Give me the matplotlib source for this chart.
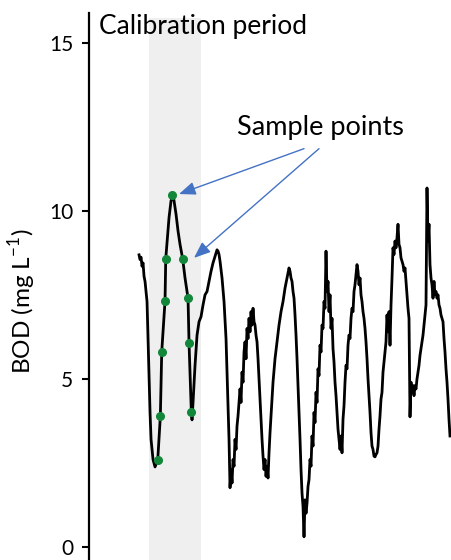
import matplotlib.pyplot as plt
import numpy as np

plt.rcParams['font.family'] = ['Lato', 'DejaVu Sans']

# BOD trace, time index vs value (mg/L)
t = [50, 51, 52, 53, 54, 55, 56, 57, 58, 59, 60, 61, 62, 64, 66, 68.7,
     71.3, 72.7, 76, 76.7, 80, 82, 84, 85, 87, 89, 91, 93.7, 96, 99, 100,
     102.3, 103, 104, 106, 108, 110, 112, 114, 116, 118, 120, 122, 124, 126,
     128, 129, 130, 131, 133, 135, 137, 138, 139, 140, 141, 142, 143, 144,
     145, 146, 147, 148, 149, 150, 151, 152, 153, 154, 155, 156, 157, 158,
     159, 160, 161, 162, 163, 164, 165, 166, 167, 168, 169, 170, 171, 172,
     173, 174, 175, 176, 177, 178, 179, 180, 181, 182, 183, 184, 186, 188,
     190, 192, 194, 196, 198, 200, 201, 202, 203, 204, 205, 206, 207, 208,
     209, 210, 211, 212, 213, 214, 215, 216, 217, 218, 219, 220, 221, 222,
     223, 224, 225, 226, 227, 228, 229, 230, 231, 232, 233, 234, 235, 236,
     237, 238, 239, 240, 241, 242, 243, 244, 245, 246, 247, 248, 249, 250,
     251, 252, 253, 254, 255, 256, 257, 258, 259, 260, 261, 262, 263, 264,
     265, 266, 267, 268, 269, 270, 271, 272, 273, 274, 275, 276, 277, 278,
     279, 280, 281, 282, 283, 284, 285, 286, 287, 288, 289, 290, 291, 292,
     293, 294, 295, 296, 297, 298, 299, 300, 301, 302, 303, 304, 305, 306,
     307, 308, 309, 310, 311, 312, 313, 314, 315, 316, 317, 318, 319, 320,
     321, 322, 323, 324, 325, 326, 327, 328, 329, 330, 331, 332, 333, 334,
     335, 336, 337, 338, 339, 340, 341, 342, 343, 344, 345, 346, 347, 348,
     349, 350, 351, 352, 353, 354, 355, 356, 357, 358, 359, 360, 361]
bod = [8.69, 8.55, 8.62, 8.35, 8.45, 8.05, 7.9, 7.6, 7.3, 6.2, 5.0, 4.0,
       3.2, 2.6, 2.38, 2.59, 3.88, 5.81, 7.32, 8.57, 9.8, 10.3, 10.45, 10.3,
       9.9, 9.4, 9.0, 8.56, 8.0, 7.40, 6.06, 4.01, 3.78, 4.3, 5.4, 6.3, 6.7,
       6.85, 7.2, 7.5, 7.6, 7.9, 8.2, 8.45, 8.65, 8.84, 8.8, 8.7, 8.5, 8.0,
       7.3, 6.2, 5.2, 4.2, 3.2, 1.76, 2.3, 1.9, 2.6, 2.4, 3.2, 2.9, 3.6, 3.9,
       4.3, 4.7, 4.3, 5.2, 4.9, 5.8, 6.1, 5.6, 6.5, 6.2, 6.8, 6.4, 7.0, 6.6,
       7.1, 6.7, 6.6, 6.3, 6.1, 5.6, 5.0, 4.4, 3.8, 3.2, 2.7, 2.3, 2.6, 2.1,
       2.4, 2.05, 2.8, 3.4, 3.9, 4.4, 4.9, 5.6, 6.1, 6.6, 7.0, 7.3, 7.7, 8.0,
       8.3, 8.2, 8.0, 7.9, 7.6, 7.4, 6.9, 6.3, 5.6, 4.8, 4.0, 3.2, 2.3, 1.6,
       1.2, 0.3, 1.4, 1.0, 1.3, 1.8, 2.0, 2.6, 2.4, 3.3, 3.0, 4.0, 3.7, 4.6,
       4.3, 5.3, 5.1, 6.0, 5.8, 6.6, 6.5, 7.3, 7.1, 8.8, 7.6, 7.9, 7.0, 7.5,
       6.5, 6.8, 5.9, 5.5, 4.9, 4.5, 4.0, 3.5, 3.2, 2.9, 3.3, 2.8, 3.8, 4.2,
       4.9, 5.4, 5.3, 6.0, 6.3, 6.2, 6.8, 7.1, 7.0, 7.6, 7.8, 8.1, 8.4, 8.2,
       7.8, 8.0, 7.5, 7.3, 7.0, 6.8, 6.5, 6.1, 5.6, 5.0, 4.5, 4.0, 3.4, 3.0,
       2.9, 2.7, 2.68, 2.75, 2.8, 3.0, 3.5, 3.9, 4.4, 4.6, 5.2, 5.5, 5.8, 6.1,
       6.9, 6.4, 7.0, 6.0, 7.2, 8.0, 8.9, 8.7, 9.1, 8.9, 9.2, 9.6, 9.0, 8.9,
       8.6, 8.5, 8.4, 8.2, 8.3, 7.9, 7.5, 7.1, 6.8, 3.87, 4.9, 4.6, 4.8, 4.5,
       4.8, 4.7, 5.0, 5.2, 5.4, 5.7, 5.9, 6.1, 6.3, 6.6, 6.9, 7.2, 10.68, 9.1,
       9.6, 8.4, 8.0, 7.8, 7.4, 7.9, 7.5, 7.6, 7.4, 7.5, 7.2, 7.1, 6.9, 6.8,
       6.7, 6.2, 5.8, 5.3, 4.9, 4.4, 3.8, 3.3]

# sample points in the calibration period
sample_t = [68.7, 71.3, 72.7, 76, 76.7, 83.3, 93.7, 99, 100, 102.3]
sample_bod = [2.59, 3.88, 5.81, 7.32, 8.57, 10.48, 8.56, 7.40, 6.06, 4.01]

calib_start = 60
calib_end = 112

fig = plt.figure(figsize=(4.52, 5.6), dpi=100)
ax = fig.add_axes([0.197, 0.0, 0.803, 0.977])

ax.axvspan(calib_start, calib_end, ymax=0.991, color='#efefef', lw=0, zorder=0)
ax.plot(t, bod, color='black', lw=2.0, zorder=2)
ax.plot(sample_t, sample_bod, 'o', color='#12873a', ms=5.5, zorder=3)

ax.set_xlim(0, 363)
ax.set_ylim(-0.39, 15.89)
ax.set_yticks([0, 5, 10, 15])
ax.tick_params(axis='y', labelsize=15, length=5, width=1.5, pad=6.5)
ax.set_xticks([])
for s in ['top', 'right', 'bottom']:
    ax.spines[s].set_visible(False)
ax.spines['left'].set_linewidth(1.6)
ax.set_ylabel('BOD (mg L$^{\\mathregular{-1}}$)', fontsize=17.5)
ax.yaxis.set_label_coords(-0.14, 0.473)

ax.text(10, 15.48, 'Calibration period', fontsize=19, va='center', ha='left')
ax.text(231, 12.47, 'Sample points', fontsize=19.5, va='center', ha='center')

arrow = dict(arrowstyle='-|>,head_length=0.5,head_width=0.2', color='#4472C4',
             lw=1, mutation_scale=20, shrinkA=0, shrinkB=0)
ax.annotate('', xy=(90, 10.5), xytext=(215, 11.85), arrowprops=arrow)
ax.annotate('', xy=(105, 8.6), xytext=(230, 11.85), arrowprops=arrow)

plt.savefig('out.png', dpi=100)
